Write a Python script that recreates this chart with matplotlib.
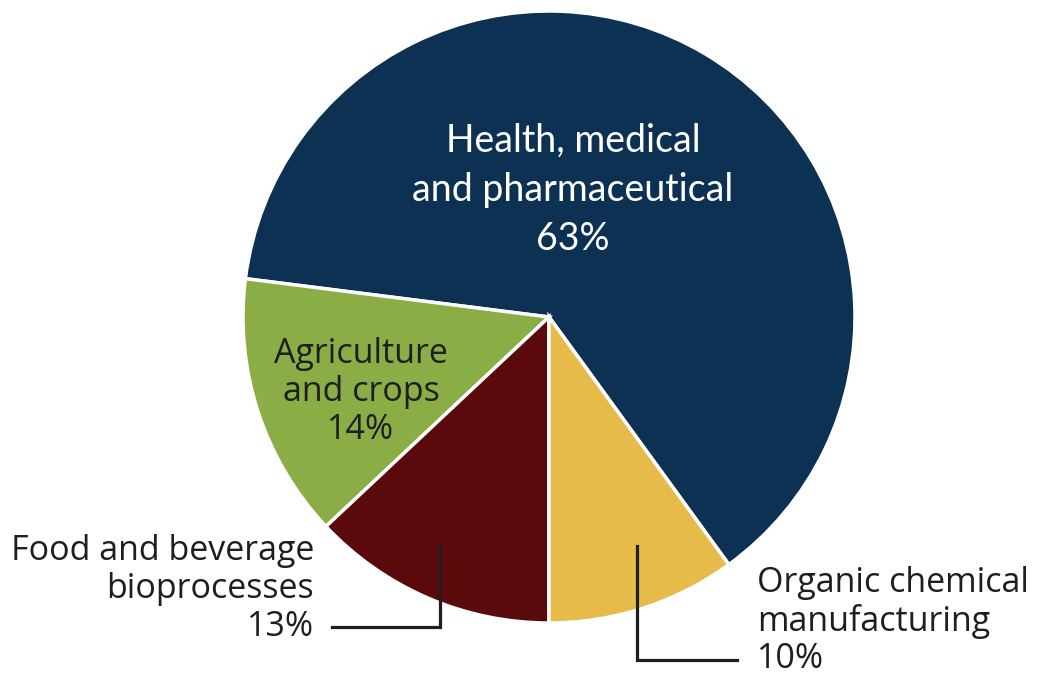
import matplotlib
matplotlib.use('Agg')
import matplotlib.pyplot as plt

# Data
sectors = ['Health, medical\nand pharmaceutical', 'Agriculture\nand crops',
           'Food and beverage\nbioprocesses', 'Organic chemical\nmanufacturing']
shares = [63, 14, 13, 10]
colors = ['#0d3152', '#8aad45', '#5b0a0c', '#e7bb4a']

W, H = 1039, 676
fig = plt.figure(figsize=(W / 100, H / 100), dpi=100)
ax = fig.add_axes([0, 0, 1, 1])

cx, cy, r = 549, H - 317, 306
ax.pie(shares, colors=colors, startangle=-54, counterclock=True,
       center=(cx, cy), radius=r, frame=True,
       wedgeprops=dict(edgecolor='white', linewidth=2.5))
ax.set_xlim(0, W)
ax.set_ylim(0, H)
ax.set_aspect('equal')
ax.axis('off')

# Labels
ax.text(573, H - 190, f"{sectors[0]}\n{shares[0]}%", color='white', ha='center', va='center',
        fontsize=27, family='Lato', linespacing=1.45)
ax.text(361, H - 392, f"{sectors[1]}\n{shares[1]}%", color='#1e1e1e', ha='center', va='center',
        fontsize=24.5, family='Open Sans', linespacing=1.15)
ax.text(314, H - 589, f"{sectors[2]}\n{shares[2]}%", color='#1e1e1e', ha='right', va='center',
        fontsize=24.5, family='Open Sans', linespacing=1.15)
ax.text(757, H - 621, f"{sectors[3]}\n{shares[3]}%", color='#1e1e1e', ha='left', va='center',
        fontsize=24.5, family='Open Sans', linespacing=1.15)

# Leader lines
ax.plot([332, 440, 440], [H - 627, H - 627, H - 546], color='#1e1e1e', lw=2.3,
        solid_joinstyle='miter')
ax.plot([637, 637, 737], [H - 546, H - 660, H - 660], color='#1e1e1e', lw=2.3,
        solid_joinstyle='miter')

fig.savefig('out.png', dpi=100)
